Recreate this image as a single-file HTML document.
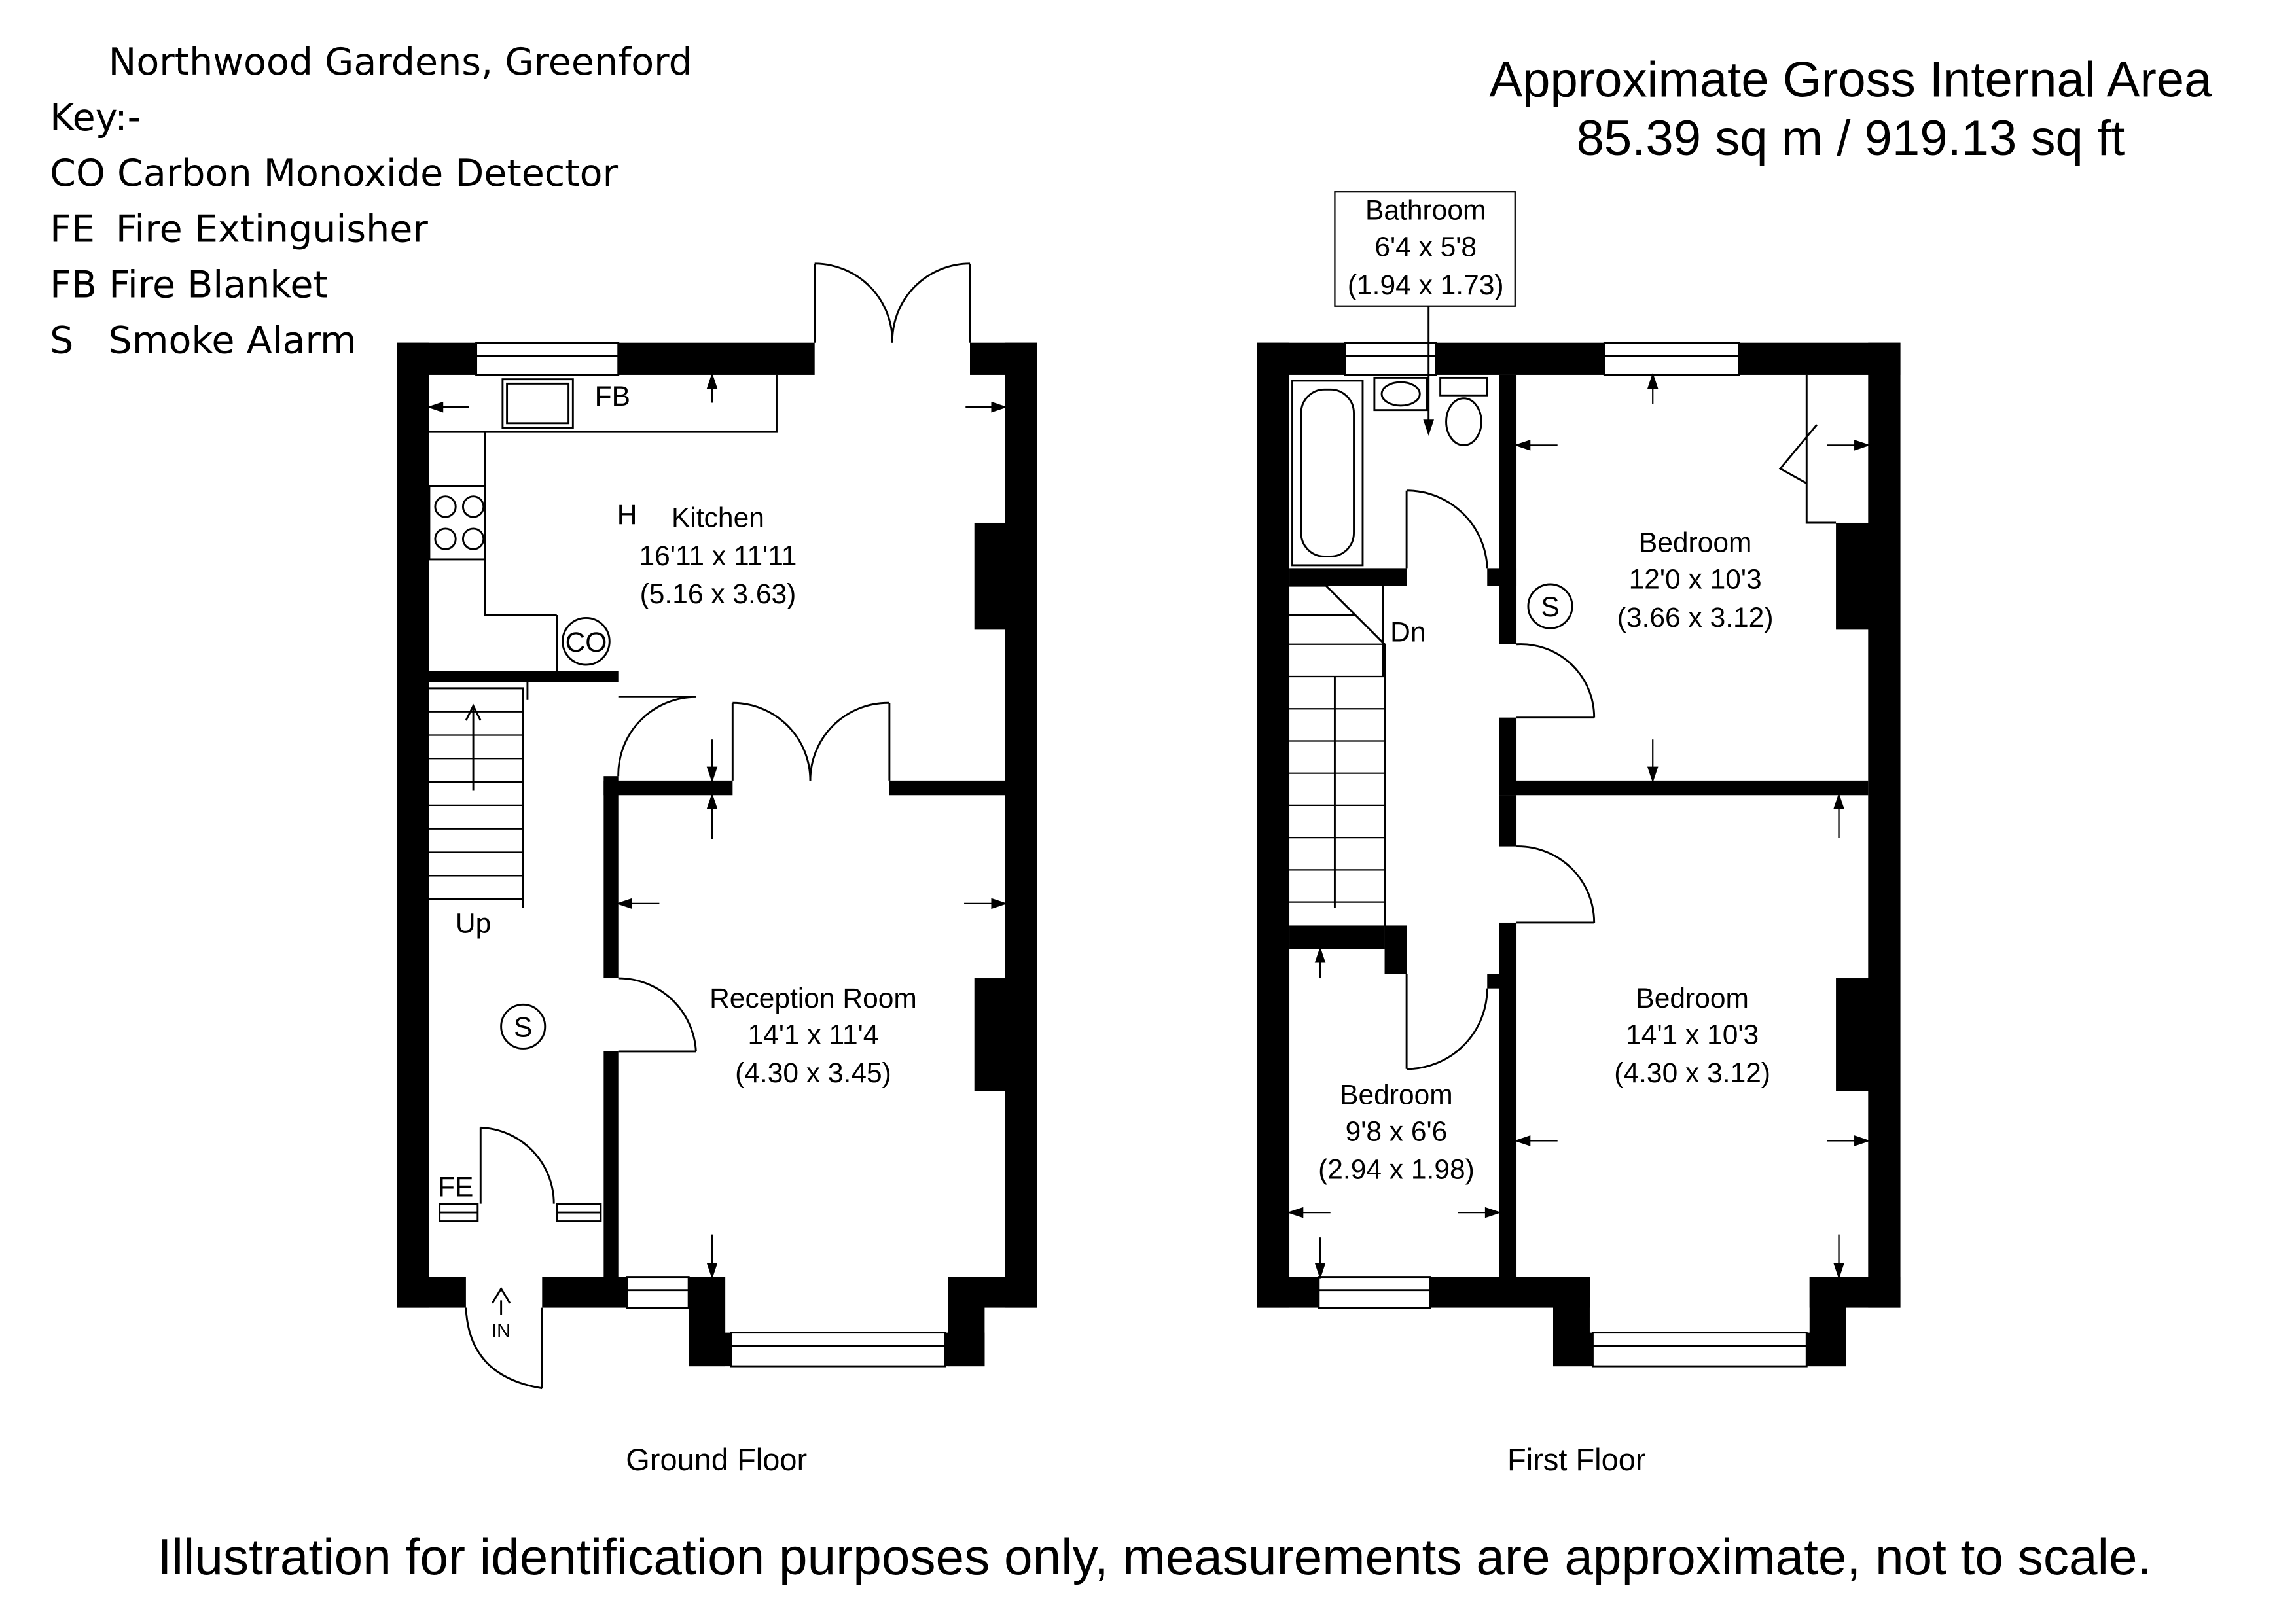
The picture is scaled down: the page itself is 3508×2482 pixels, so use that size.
<!DOCTYPE html>
<html><head><meta charset="utf-8"><style>
html,body{margin:0;padding:0;background:#fff}
svg{display:block}
text{font-family:"Liberation Sans",sans-serif;fill:#000}
.k{font-family:"DejaVu Sans","Liberation Sans",sans-serif}
</style></head><body>
<svg width="3508" height="2482" viewBox="0 0 1567 1109" preserveAspectRatio="none" xmlns="http://www.w3.org/2000/svg">
<rect width="1600" height="1120" fill="#fff"/>
<g class="k" font-size="25.5">
<text x="74" y="51" class="k">Northwood Gardens, Greenford</text>
<text x="34" y="89" class="k">Key:-</text>
<text x="34" y="127" class="k">CO Carbon Monoxide Detector</text>
<text x="34" y="165" class="k">FE</text><text x="79" y="165" class="k">Fire Extinguisher</text>
<text x="34" y="203" class="k">FB Fire Blanket</text>
<text x="34" y="241" class="k">S</text><text x="74" y="241" class="k">Smoke Alarm</text>
</g>
<text x="1263" y="66" font-size="34" text-anchor="middle">Approximate Gross Internal Area</text>
<text x="1263" y="106" font-size="34" text-anchor="middle">85.39 sq m / 919.13 sq ft</text>

<g fill="#000">
<rect x="271" y="234" width="54" height="22"/>
<rect x="422" y="234" width="134" height="22"/>
<rect x="662" y="234" width="46" height="22"/>
<rect x="271" y="234" width="22" height="659"/>
<rect x="686" y="234" width="22" height="659"/>
<rect x="665" y="357" width="25" height="73"/>
<rect x="665" y="668" width="25" height="77"/>
<rect x="271" y="872" width="47" height="21"/>
<rect x="370" y="872" width="58" height="21"/>
<rect x="470" y="872" width="25" height="61"/>
<rect x="470" y="910" width="202" height="23"/>
<rect x="647" y="872" width="61" height="21"/>
<rect x="647" y="872" width="25" height="61"/>
<rect x="293" y="458" width="129" height="8"/>
<rect x="412" y="530" width="10" height="138"/>
<rect x="412" y="718" width="10" height="154"/>
<rect x="412" y="533" width="88" height="10"/>
<rect x="607" y="533" width="79" height="10"/>

<rect x="858" y="234" width="60" height="22"/>
<rect x="980" y="234" width="115" height="22"/>
<rect x="1187" y="234" width="110" height="22"/>
<rect x="858" y="234" width="22" height="659"/>
<rect x="1275" y="234" width="22" height="659"/>
<rect x="1253" y="357" width="25" height="73"/>
<rect x="1253" y="668" width="25" height="77"/>
<rect x="858" y="872" width="42" height="21"/>
<rect x="976" y="872" width="109" height="21"/>
<rect x="1060" y="872" width="25" height="61"/>
<rect x="1060" y="910" width="200" height="23"/>
<rect x="1235" y="872" width="62" height="21"/>
<rect x="1235" y="872" width="25" height="61"/>
<rect x="1023" y="256" width="12" height="184"/>
<rect x="1023" y="490" width="12" height="53"/>
<rect x="1023" y="533" width="252" height="10"/>
<rect x="1023" y="543" width="12" height="35"/>
<rect x="1023" y="630" width="12" height="242"/>
<rect x="880" y="388" width="80" height="12"/>
<rect x="1015" y="388" width="20" height="12"/>
<rect x="880" y="632" width="65" height="16"/>
<rect x="945" y="632" width="15" height="33"/>
<rect x="1015" y="665" width="10" height="10"/>
</g>

<g fill="none" stroke="#000" stroke-width="1.3">
<rect x="300" y="822" width="26" height="12"/><line x1="300" y1="828" x2="326" y2="828"/>
<rect x="380" y="822" width="30" height="12"/><line x1="380" y1="828" x2="410" y2="828"/>
<rect x="325" y="234" width="97" height="22" fill="#fff"/>
<line x1="325" y1="243" x2="422" y2="243"/>
<rect x="428" y="872" width="42" height="21" fill="#fff"/>
<line x1="428" y1="881" x2="470" y2="881"/>
<rect x="499" y="910" width="146" height="23" fill="#fff"/>
<line x1="499" y1="919" x2="645" y2="919"/>
<line x1="556" y1="234" x2="556" y2="180"/><path d="M556 180 A53 53 0 0 1 609 234"/>
<line x1="662" y1="234" x2="662" y2="180"/><path d="M662 180 A53 53 0 0 0 609 234"/>
<path d="M293 295 H530 V256 M331 295 V420 H380"/>
<path d="M380 420 V458"/>
<rect x="343" y="259" width="48" height="33"/>
<rect x="346" y="262" width="42" height="27"/>
<rect x="293" y="332" width="38" height="50"/>
<circle cx="304" cy="346" r="7"/><circle cx="323" cy="346" r="7"/>
<circle cx="304" cy="368" r="7"/><circle cx="323" cy="368" r="7"/>
<circle cx="400" cy="438" r="16"/>
<path d="M293 470 H357 V620"/>
<g stroke-width="1">
<line x1="293" y1="486" x2="357" y2="486"/><line x1="293" y1="502" x2="357" y2="502"/>
<line x1="293" y1="518" x2="357" y2="518"/><line x1="293" y1="534" x2="357" y2="534"/>
<line x1="293" y1="550" x2="357" y2="550"/><line x1="293" y1="566" x2="357" y2="566"/>
<line x1="293" y1="582" x2="357" y2="582"/><line x1="293" y1="598" x2="357" y2="598"/>
<line x1="293" y1="614" x2="357" y2="614"/>
</g>
<line x1="323" y1="540" x2="323" y2="482"/><path d="M318 492 L323 482 L328 492"/>
<path d="M360 466 V478"/>
<line x1="422" y1="476" x2="475" y2="476"/><path d="M475 476 A53 53 0 0 0 422 530"/>
<line x1="500" y1="533" x2="500" y2="480"/><path d="M500 480 A53 53 0 0 1 553 533"/>
<line x1="607" y1="533" x2="607" y2="480"/><path d="M607 480 A53 53 0 0 0 553 533"/>
<line x1="422" y1="718" x2="475" y2="718"/><path d="M475 718 A53 53 0 0 0 422 668"/>
<line x1="328" y1="822" x2="328" y2="770"/><path d="M328 770 A52 52 0 0 1 378 822"/>
<line x1="370" y1="893" x2="370" y2="948"/><path d="M318 893 Q320 940 370 948"/>
<circle cx="357" cy="701" r="15"/>
<line x1="342" y1="898" x2="342" y2="888"/><path d="M336 890 L342 880 L348 890"/>

<rect x="918" y="234" width="62" height="22" fill="#fff"/><line x1="918" y1="243" x2="980" y2="243"/>
<rect x="1095" y="234" width="92" height="22" fill="#fff"/><line x1="1095" y1="243" x2="1187" y2="243"/>
<rect x="900" y="872" width="76" height="21" fill="#fff"/><line x1="900" y1="881" x2="976" y2="881"/>
<rect x="1087" y="910" width="146" height="23" fill="#fff"/><line x1="1087" y1="919" x2="1233" y2="919"/>
<rect x="882" y="260" width="48" height="126"/>
<rect x="888" y="266" width="36" height="114" rx="16"/>
<rect x="938" y="258" width="36" height="22"/><ellipse cx="956" cy="269" rx="13" ry="8"/>
<rect x="983" y="258" width="32" height="12"/><ellipse cx="999" cy="288" rx="12" ry="16"/>
<rect x="911" y="131" width="123" height="78" stroke-width="1"/>
<line x1="975" y1="209" x2="975" y2="296"/>
<path d="M880 400 H905 L945 440 V632"/>
<g stroke-width="1">
<line x1="880" y1="420" x2="925" y2="420"/><line x1="880" y1="440" x2="945" y2="440"/>
<line x1="880" y1="462" x2="945" y2="462"/><line x1="880" y1="484" x2="945" y2="484"/>
<line x1="880" y1="506" x2="945" y2="506"/><line x1="880" y1="528" x2="945" y2="528"/>
<line x1="880" y1="550" x2="945" y2="550"/><line x1="880" y1="572" x2="945" y2="572"/>
<line x1="880" y1="594" x2="945" y2="594"/><line x1="880" y1="616" x2="945" y2="616"/>
</g>
<line x1="911" y1="462" x2="911" y2="620"/><line x1="944" y1="400" x2="944" y2="462"/>
<line x1="960" y1="388" x2="960" y2="335"/><path d="M960 335 A55 55 0 0 1 1015 388"/>
<line x1="1035" y1="490" x2="1088" y2="490"/><path d="M1088 490 A50 50 0 0 0 1035 440"/>
<line x1="1035" y1="630" x2="1088" y2="630"/><path d="M1088 630 A52 52 0 0 0 1035 578"/>
<line x1="960" y1="665" x2="960" y2="730"/><path d="M960 730 A55 55 0 0 0 1015 675"/>
<path d="M1233 256 V357 H1253 M1240 290 L1215 320 L1233 330"/>
<circle cx="1058" cy="414" r="15"/>
</g>

<g stroke="#000" stroke-width="1" fill="#000">
<line x1="293" y1="278" x2="320" y2="278"/><path d="M293 278 l9 -3 v6z"/>
<line x1="686" y1="278" x2="659" y2="278"/><path d="M686 278 l-9 -3 v6z"/>
<line x1="486" y1="256" x2="486" y2="275"/><path d="M486 256 l-3 9 h6z"/>
<line x1="486" y1="533" x2="486" y2="505"/><path d="M486 533 l-3 -9 h6z"/>
<line x1="486" y1="543" x2="486" y2="573"/><path d="M486 543 l-3 9 h6z"/>
<line x1="486" y1="872" x2="486" y2="843"/><path d="M486 872 l-3 -9 h6z"/>
<line x1="422" y1="617" x2="450" y2="617"/><path d="M422 617 l9 -3 v6z"/>
<line x1="686" y1="617" x2="658" y2="617"/><path d="M686 617 l-9 -3 v6z"/>
<line x1="1035" y1="304" x2="1063" y2="304"/><path d="M1035 304 l9 -3 v6z"/>
<line x1="1275" y1="304" x2="1247" y2="304"/><path d="M1275 304 l-9 -3 v6z"/>
<line x1="1128" y1="256" x2="1128" y2="276"/><path d="M1128 256 l-3 9 h6z"/>
<line x1="1128" y1="533" x2="1128" y2="505"/><path d="M1128 533 l-3 -9 h6z"/>
<line x1="1255" y1="543" x2="1255" y2="572"/><path d="M1255 543 l-3 9 h6z"/>
<line x1="1255" y1="872" x2="1255" y2="843"/><path d="M1255 872 l-3 -9 h6z"/>
<line x1="1035" y1="779" x2="1063" y2="779"/><path d="M1035 779 l9 -3 v6z"/>
<line x1="1275" y1="779" x2="1247" y2="779"/><path d="M1275 779 l-9 -3 v6z"/>
<line x1="880" y1="828" x2="908" y2="828"/><path d="M880 828 l9 -3 v6z"/>
<line x1="1023" y1="828" x2="995" y2="828"/><path d="M1023 828 l-9 -3 v6z"/>
<line x1="901" y1="648" x2="901" y2="668"/><path d="M901 648 l-3 9 h6z"/>
<line x1="901" y1="872" x2="901" y2="845"/><path d="M901 872 l-3 -9 h6z"/>
<path d="M975 296 l-3 -9 h6z"/>
</g>

<g font-size="19" text-anchor="middle">
<text x="490" y="360">Kitchen</text>
<text x="490" y="386">16'11 x 11'11</text>
<text x="490" y="412">(5.16 x 3.63)</text>
<text x="555" y="688">Reception Room</text>
<text x="555" y="713">14'1 x 11'4</text>
<text x="555" y="739">(4.30 x 3.45)</text>
<text x="973" y="150">Bathroom</text>
<text x="973" y="175">6'4 x 5'8</text>
<text x="973" y="201">(1.94 x 1.73)</text>
<text x="1157" y="377">Bedroom</text>
<text x="1157" y="402">12'0 x 10'3</text>
<text x="1157" y="428">(3.66 x 3.12)</text>
<text x="1155" y="688">Bedroom</text>
<text x="1155" y="713">14'1 x 10'3</text>
<text x="1155" y="739">(4.30 x 3.12)</text>
<text x="953" y="754">Bedroom</text>
<text x="953" y="779">9'8 x 6'6</text>
<text x="953" y="805">(2.94 x 1.98)</text>
<text x="323" y="637">Up</text>
<text x="961" y="438">Dn</text>
<text x="357" y="708">S</text>
<text x="1058" y="421">S</text>
<text x="400" y="445">CO</text>
<text x="428" y="358">H</text>
<text x="418" y="277">FB</text>
<text x="311" y="817">FE</text>
<text x="342" y="913" font-size="13">IN</text>
<text x="489" y="1004" font-size="21">Ground Floor</text>
<text x="1076" y="1004" font-size="21">First Floor</text>
</g>
<text x="788" y="1075" font-size="35" text-anchor="middle">Illustration for identification purposes only, measurements are approximate, not to scale.</text>
</svg>
</body></html>
